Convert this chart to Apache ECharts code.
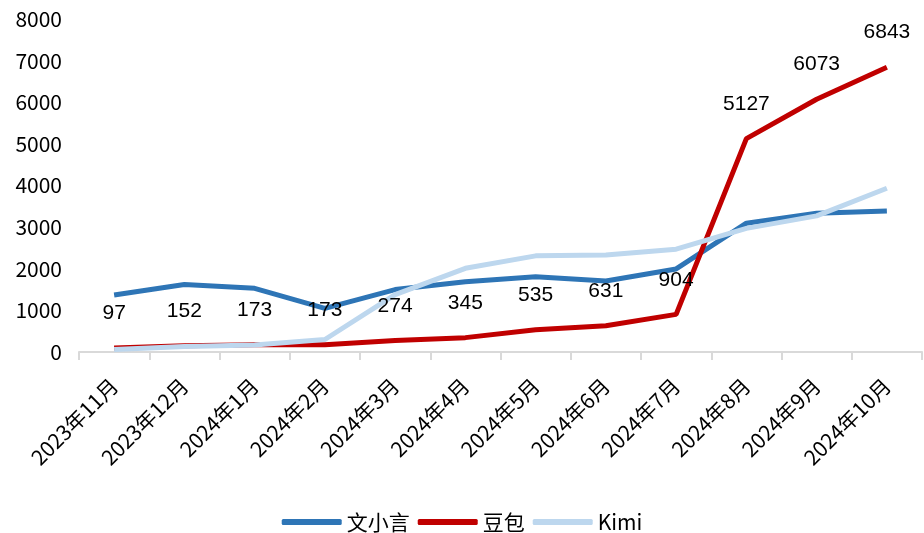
<!DOCTYPE html>
<html><head><meta charset="utf-8">
<script src="https://cdn.jsdelivr.net/npm/echarts@6/dist/echarts.min.js"></script>
<style>html,body{margin:0;padding:0;background:#fff}#c{width:924px;height:533px}</style>
</head><body><div id="c"></div>
<script>
const categories = ['2023年11月','2023年12月','2024年1月','2024年2月','2024年3月','2024年4月','2024年5月','2024年6月','2024年7月','2024年8月','2024年9月','2024年10月'];
const wenxiaoyan = [1370,1620,1530,1050,1500,1690,1810,1705,1995,3095,3335,3390];
const doubao = [97,152,173,173,274,345,535,631,904,5127,6073,6843];
const kimi = [60,130,170,300,1380,2010,2310,2330,2470,2970,3270,3935];
const yTicks = {min:0, max:8000, interval:1000};

const chart = echarts.init(document.getElementById('c'));
const lw = 5;
chart.setOption({
  animation:false,
  grid:{left:79, right:2, top:19, bottom:181, containLabel:false},
  legend:{
    top:511, left:'center', padding:0, itemWidth:60, itemHeight:6, itemGap:8,
    icon:'roundRect',
    textStyle:{fontFamily:'Noto Sans CJK SC', fontSize:21, lineHeight:22, color:'#000'},
    data:['文小言','豆包','Kimi']
  },
  xAxis:{
    type:'category', data:categories, boundaryGap:true,
    axisLine:{lineStyle:{color:'#D9D9D9', width:2}},
    axisTick:{show:true, length:8, lineStyle:{color:'#D9D9D9', width:2}},
    axisLabel:{rotate:45, interval:0, color:'#000', fontSize:21, fontFamily:'Noto Sans CJK SC', margin:30}
  },
  yAxis:{
    type:'value', min:yTicks.min, max:yTicks.max, interval:yTicks.interval,
    splitLine:{show:false}, axisLine:{show:false}, axisTick:{show:false},
    axisLabel:{color:'#000', fontSize:21, fontFamily:'Noto Sans CJK SC', margin:17, formatter:function(v){return String(v);}}
  },
  series:[
    {name:'文小言', type:'line', data:wenxiaoyan, symbol:'none', lineStyle:{color:'#2E75B6', width:lw}, itemStyle:{color:'#2E75B6'}},
    {name:'豆包', type:'line', data:doubao, symbol:'circle', symbolSize:0.1, showSymbol:true, lineStyle:{color:'#C00000', width:lw}, itemStyle:{color:'#C00000'},
      label:{show:true, position:'top', distance:24, color:'#000', fontSize:21, fontFamily:'Liberation Sans'}},
    {name:'Kimi', type:'line', data:kimi, symbol:'none', lineStyle:{color:'#BDD7EE', width:lw}, itemStyle:{color:'#BDD7EE'}}
  ]
});
</script></body></html>
